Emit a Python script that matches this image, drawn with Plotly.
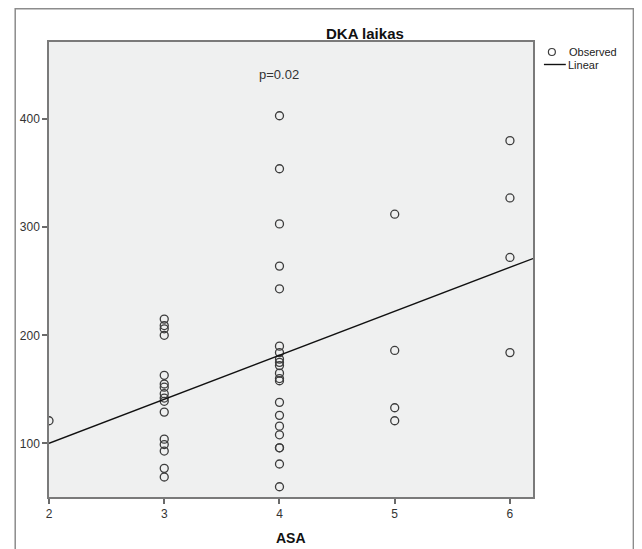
import numpy as np
import plotly.graph_objects as go

# ---- data ----
asa_levels = [2, 3, 4, 5, 6]
dka_asa2 = [121]
dka_asa3 = [215, 209, 206, 200, 163, 155, 152, 146, 142, 139, 129, 104, 99, 93, 77, 69]
dka_asa4 = [403, 354, 303, 264, 243, 190, 184, 178, 175, 172, 165, 160, 158, 138, 126,
            116, 108, 96, 96, 81, 60]
dka_asa5 = [312, 186, 133, 121]
dka_asa6 = [380, 327, 272, 184]
x_ticks = [2, 3, 4, 5, 6]
y_ticks = [100, 200, 300, 400]
x_range = [2, 6.2]
y_range = [50.5, 471.2]
title_text = "DKA laikas"
x_title = "ASA"
p_text = "p=0.02"

groups = [dka_asa2, dka_asa3, dka_asa4, dka_asa5, dka_asa6]
xs, ys = [], []
for lvl, vals in zip(asa_levels, groups):
    xs += [lvl] * len(vals)
    ys += vals

slope, intercept = np.polyfit(xs, ys, 1)
fit_x = np.array(x_range)
fit_y = intercept + slope * fit_x

FONT = "Liberation Sans Narrow, Arial Narrow, Liberation Sans, Arial, sans-serif"
FONT_B = "Liberation Sans, Arial, sans-serif"

fig = go.Figure()
fig.add_trace(go.Scatter(
    x=xs, y=ys, mode="markers", name="Observed",
    marker=dict(symbol="circle-open", size=8, color="#3c3c3c", line=dict(width=1.3, color="#3c3c3c")),
))
fig.add_trace(go.Scatter(
    x=fit_x, y=fit_y, mode="lines", name="Linear",
    line=dict(color="#111111", width=1.4),
))

# the page body adds an 8px offset; work in page pixels and subtract it
OFF = 8
W, H = 642 - OFF, 549 - OFF
L, R, T, B = 46 - OFF, 533 - OFF, 42 - OFF, 497 - OFF  # plot area in figure pixels


def px(xp):
    return (xp - OFF - L) / (R - L)


def py(yp):
    return (B - (yp - OFF)) / (B - T)


axis_common = dict(
    showgrid=False, zeroline=False, showline=True, mirror=True,
    linecolor="#7a7a7a", linewidth=1.5,
    ticks="outside", ticklen=5, tickwidth=1.5, tickcolor="#6a6a6a",
    tickfont=dict(family=FONT, size=12, color="#333333"),
)

fig.update_layout(
    width=W, height=H,
    margin=dict(l=L, r=W - R, t=T, b=H - B, pad=0),
    paper_bgcolor="white", plot_bgcolor="#eff0f0",
    showlegend=False,
    xaxis=dict(range=x_range, tickvals=x_ticks, **axis_common),
    yaxis=dict(range=y_range, tickvals=y_ticks, **axis_common),
    shapes=[
        # outer frame
        dict(type="rect", xref="paper", yref="paper",
             x0=px(12), x1=px(634), y0=py(570), y1=py(8.8),
             line=dict(color="#8c8c8c", width=1.5), layer="below"),
        # legend glyphs
        dict(type="circle", xref="paper", yref="paper",
             x0=px(548.5), x1=px(555.5), y0=py(55.5), y1=py(48.5),
             line=dict(color="#3c3c3c", width=1.2)),
        dict(type="line", xref="paper", yref="paper",
             x0=px(544), x1=px(566), y0=py(64.5), y1=py(64.5),
             line=dict(color="#111111", width=1.4)),
    ],
    annotations=[
        dict(text=f"<b>{title_text}</b>", xref="paper", yref="paper",
             x=px(364), y=py(33), xanchor="center", yanchor="middle",
             showarrow=False, font=dict(family=FONT_B, size=15, color="#111111")),
        dict(text=f"<b>{x_title}</b>", xref="paper", yref="paper",
             x=px(290), y=py(538), xanchor="center", yanchor="middle",
             showarrow=False, font=dict(family=FONT_B, size=14, color="#111111")),
        dict(text=p_text, xref="x", yref="paper",
             x=4, y=py(75), xanchor="center", yanchor="middle",
             showarrow=False, font=dict(family=FONT_B, size=13, color="#333333")),
        dict(text="Observed", xref="paper", yref="paper",
             x=px(567), y=py(52), xanchor="left", yanchor="middle",
             showarrow=False, font=dict(family=FONT, size=11, color="#222222")),
        dict(text="Linear", xref="paper", yref="paper",
             x=px(566), y=py(64.5), xanchor="left", yanchor="middle",
             showarrow=False, font=dict(family=FONT, size=11, color="#222222")),
    ],
)

fig.write_html("out.html")
